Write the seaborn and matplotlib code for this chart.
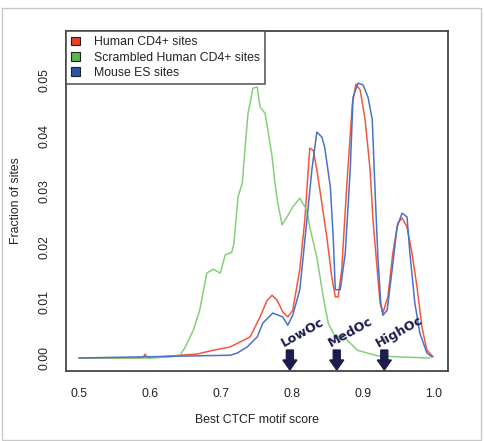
import numpy as np
import pandas as pd
import matplotlib
matplotlib.use("Agg")
import matplotlib.pyplot as plt
from matplotlib.patches import Patch, Rectangle
import seaborn as sns

# ---------------- data ----------------
green_x = [0.500, 0.600, 0.614, 0.628, 0.642, 0.649, 0.661, 0.670, 0.680, 0.689, 0.699,
           0.706, 0.715, 0.718, 0.724, 0.730, 0.734, 0.738, 0.745, 0.751, 0.755, 0.762,
           0.766, 0.772, 0.776, 0.780, 0.786, 0.793, 0.801, 0.811, 0.821, 0.825, 0.835,
           0.844, 0.851, 0.861, 0.870, 0.882, 0.892, 0.906, 0.920, 0.948, 0.994]
green_y = [0.0000, 0.0000, 0.0001, 0.0002, 0.0005, 0.0018, 0.0050, 0.0086, 0.0153, 0.0160, 0.0153,
           0.0186, 0.0190, 0.0205, 0.0290, 0.0315, 0.0380, 0.0440, 0.0486, 0.0488, 0.0452, 0.0441,
           0.0411, 0.0362, 0.0315, 0.0279, 0.0240, 0.0254, 0.0272, 0.0288, 0.0266, 0.0236, 0.0182,
           0.0110, 0.0063, 0.0038, 0.0041, 0.0027, 0.0014, 0.0009, 0.0004, 0.0002, 0.0000]

red_x = [0.500, 0.590, 0.593, 0.597, 0.642, 0.666, 0.689, 0.713, 0.727, 0.741, 0.755,
         0.765, 0.772, 0.779, 0.787, 0.794, 0.801, 0.811, 0.818, 0.825, 0.830, 0.835,
         0.842, 0.849, 0.856, 0.861, 0.865, 0.870, 0.877, 0.885, 0.890, 0.896, 0.903,
         0.910, 0.914, 0.920, 0.924, 0.928, 0.935, 0.942, 0.949, 0.955, 0.962, 0.969,
         0.976, 0.983, 0.990, 0.999]
red_y = [0.0000, 0.0000, 0.0007, 0.0000, 0.0005, 0.0007, 0.0014, 0.0020, 0.0029, 0.0038, 0.0074,
         0.0104, 0.0113, 0.0104, 0.0083, 0.0074, 0.0086, 0.0160, 0.0248, 0.0378, 0.0374, 0.0339,
         0.0279, 0.0218, 0.0146, 0.0110, 0.0110, 0.0159, 0.0308, 0.0458, 0.0493, 0.0483, 0.0429,
         0.0339, 0.0249, 0.0159, 0.0099, 0.0081, 0.0110, 0.0189, 0.0243, 0.0252, 0.0236, 0.0189,
         0.0128, 0.0056, 0.0014, 0.0002]

blue_x = [0.500, 0.713, 0.723, 0.737, 0.751, 0.759, 0.773, 0.787, 0.794, 0.801, 0.811,
          0.821, 0.828, 0.835, 0.842, 0.846, 0.854, 0.858, 0.861, 0.868, 0.875, 0.882,
          0.886, 0.893, 0.900, 0.907, 0.913, 0.917, 0.921, 0.925, 0.928, 0.934, 0.941,
          0.948, 0.955, 0.962, 0.966, 0.973, 0.980, 0.990, 0.997]
blue_y = [0.0000, 0.0005, 0.0009, 0.0020, 0.0038, 0.0063, 0.0081, 0.0074, 0.0059, 0.0077, 0.0123,
          0.0249, 0.0339, 0.0407, 0.0398, 0.0380, 0.0308, 0.0218, 0.0123, 0.0123, 0.0189, 0.0339,
          0.0470, 0.0495, 0.0492, 0.0470, 0.0430, 0.0300, 0.0180, 0.0100, 0.0077, 0.0086, 0.0159,
          0.0236, 0.0261, 0.0254, 0.0189, 0.0099, 0.0045, 0.0009, 0.0002]

series_names = ["Human CD4+ sites", "Scrambled Human CD4+ sites", "Mouse ES sites"]
x_ticks = [0.5, 0.6, 0.7, 0.8, 0.9, 1.0]
y_ticks = [0.00, 0.01, 0.02, 0.03, 0.04, 0.05]
arrow_x = [0.797, 0.863, 0.930]
arrow_labels = ["LowOc", "MedOc", "HighOc"]

# ---------------- style ----------------
sns.set_style("white")
plt.rcParams["font.family"] = ["Liberation Sans", "DejaVu Sans"]

line_colors = ["#F2583E", "#86CF78", "#4A72C6"]
legend_colors = ["#E8402A", "#5DB84C", "#2A56A8"]
navy = "#1C1C4E"

fig = plt.figure(figsize=(4.84, 4.41), dpi=100)
ax = fig.add_axes([66 / 484, 1 - 371 / 441, 382 / 484, 340 / 441])

df = pd.concat([
    pd.DataFrame({"score": red_x, "frac": red_y, "set": series_names[0]}),
    pd.DataFrame({"score": green_x, "frac": green_y, "set": series_names[1]}),
    pd.DataFrame({"score": blue_x, "frac": blue_y, "set": series_names[2]}),
])
sns.lineplot(data=df, x="score", y="frac", hue="set", palette=line_colors,
             hue_order=series_names, estimator=None, sort=False, linewidth=1.1,
             ax=ax, legend=False)

ax.set_xlim(0.4817, 1.0197)
ax.set_ylim(-0.00234, 0.0589)
ax.set_xticks(x_ticks)
ax.set_xticklabels([f"{v:.1f}" for v in x_ticks])
ax.set_yticks(y_ticks)
ax.set_yticklabels([f"{v:.2f}" for v in y_ticks], rotation=90, va="center")
ax.tick_params(axis="both", direction="out", length=4.5, width=1.0, colors="#333333",
               labelsize=8.8, labelcolor="#222222")
ax.tick_params(axis="x", pad=7.5)
ax.tick_params(axis="y", pad=6.5)
for s in ax.spines.values():
    s.set_visible(True)
    s.set_color("#444444")
    s.set_linewidth(1.3)

ax.set_xlabel("Best CTCF motif score", fontsize=8.8, color="#222222")
ax.set_ylabel("Fraction of sites", fontsize=8.8, color="#222222")
ax.xaxis.set_label_coords(0.5, -0.126)
ax.yaxis.set_label_coords(-0.115, 0.5)

# arrows and labels
for xa, lab in zip(arrow_x, arrow_labels):
    ax.arrow(xa, 0.00144, 0, -0.0036, width=7 / 710, head_width=14 / 710,
             head_length=10 / 5550, length_includes_head=True, fc=navy, ec=navy,
             clip_on=False, zorder=5)
    ax.text(xa - 0.008, 0.00198, lab, rotation=29, rotation_mode="anchor",
            ha="left", va="baseline", fontsize=9.2, fontweight="bold", color=navy,
            family=["DejaVu Sans"])

handles = [Patch(facecolor=c, edgecolor="#222222", linewidth=0.8) for c in legend_colors]
leg = ax.legend(handles, series_names, loc="upper left", bbox_to_anchor=(0, 1),
                borderaxespad=0, fancybox=False, frameon=True, fontsize=8.8,
                handlelength=0.7, handleheight=0.7, handletextpad=1.2,
                labelspacing=0.28, borderpad=0.42)
leg.get_frame().set_edgecolor("#444444")
leg.get_frame().set_linewidth(1.3)
for t in leg.get_texts():
    t.set_color("#222222")

fig.patches.append(Rectangle((2 / 484, 1 - 440 / 441), 479 / 484, 432 / 441,
                             transform=fig.transFigure, fill=False,
                             edgecolor="#C8C8C8", linewidth=1.0))

fig.savefig("out.png", dpi=100)
